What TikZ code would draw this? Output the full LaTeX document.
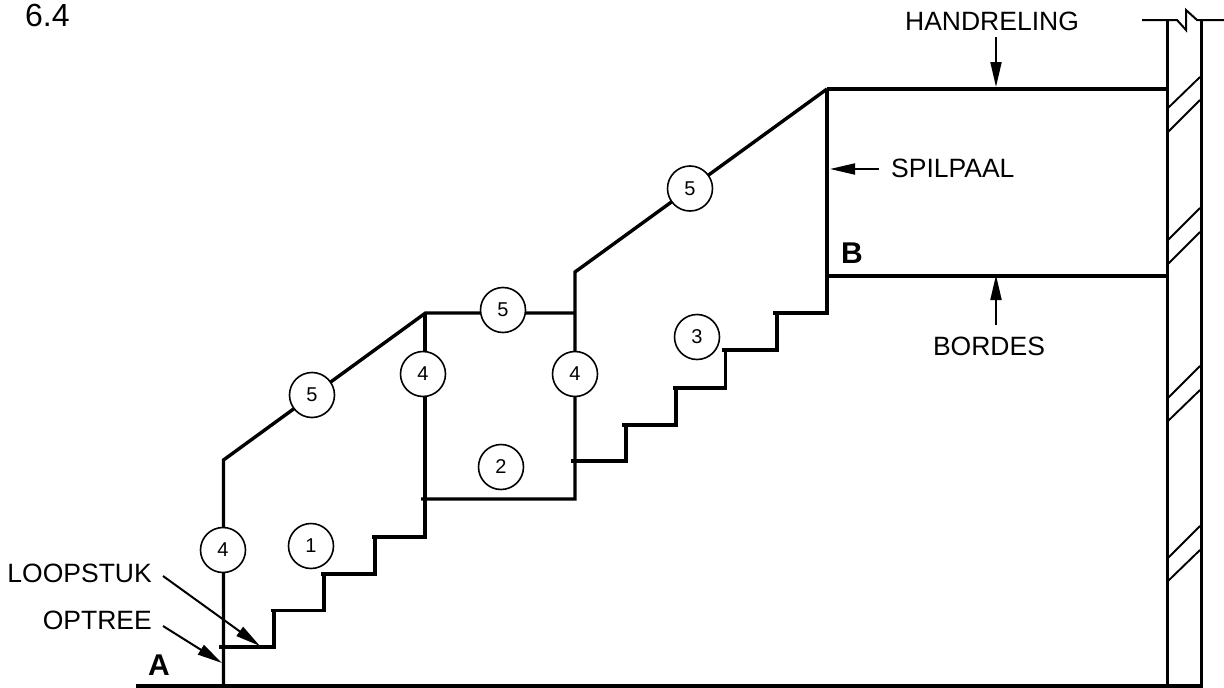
\documentclass[tikz,border=0pt]{standalone}
\usepackage{fontspec}
\setmainfont{Liberation Sans}
\usetikzlibrary{arrows.meta}
\tikzset{
  heavy/.style={line width=3.4pt,line cap=butt,line join=miter},
  wallline/.style={line width=3pt},
  thin hatch/.style={line width=1.9pt},
  pointer/.style={line width=2pt,-{Triangle[length=25pt,width=11pt]}},
  num/.style={circle,draw,line width=1.6pt,fill=white,minimum size=45pt,inner sep=0pt,font=\fontsize{20}{20}\selectfont},
  lab/.style={inner sep=0pt,font=\fontsize{26.5}{26.5}\selectfont},
  letter/.style={inner sep=0pt,font=\fontsize{30}{30}\selectfont\bfseries}
}
\begin{document}
\begin{tikzpicture}[x=1pt,y=-1pt]
\useasboundingbox (0,0) rectangle (1224,688);
% ground and wall
\draw[heavy] (136,686) -- (1203,686);
\draw[wallline] (1167,20) -- (1167,686);
\draw[wallline] (1201,20) -- (1201,686);
\draw[line width=2pt,line join=miter] (1142,20) -- (1177,20) -- (1186,30) -- (1186,10) -- (1197,20) -- (1224,20);
% hatching
\foreach \a/\b in {108/77,132/100,240/208,264/232,398/366,421/390,558/526,581/550}
  \draw[thin hatch] (1168,\a) -- (1200,\b);
% posts and rails
\draw[heavy] (223.5,686) -- (223.5,460) -- (425.5,313) -- (575,313);
\draw[heavy] (425,313) -- (425,537);
\draw[heavy] (421,499) -- (575,499) -- (575,272) -- (827,89);
\draw[heavy] (827,89) -- (1167,89);
\draw[heavy] (827,276) -- (1167,276);
% flight 1
\draw[heavy] (219,647) -- (274,647) -- (274,610.5);
\draw[heavy] (271,610.5) -- (324,610.5) -- (324,574);
\draw[heavy] (321,574) -- (375,574) -- (375,537);
\draw[heavy] (372,537) -- (425,537) -- (425,530);
% flight 3
\draw[heavy] (571,461) -- (626,461) -- (626,425);
\draw[heavy] (622,425) -- (676,425) -- (676,388);
\draw[heavy] (673,388) -- (725.5,388) -- (725.5,350);
\draw[heavy] (722,350) -- (777,350) -- (777,313);
\draw[heavy] (773,313) -- (827,313) -- (827,89);
% numbered circles
\node[num] (c4a) at (223,550) {4};
\node[num] (c1) at (311,546) {1};
\node[num] (c5a) at (312,395) {5};
\node[num] (c4b) at (423,374) {4};
\node[num] (c5b) at (503,310) {5};
\node[num] (c4c) at (575,374) {4};
\node[num] (c2) at (501,467) {2};
\node[num] (c3) at (697,337) {3};
\node[num] (c5c) at (690,188.5) {5};
% labels
\node[lab,anchor=west,font=\fontsize{32}{32}\selectfont] (title) at (25,15) {6.4};
\node[lab] (hand) at (992,21) {HANDRELING};
\node[lab,anchor=west] (spil) at (891,168) {SPILPAAL};
\node[lab] (bord) at (989,346) {BORDES};
\node[lab,anchor=east] (loop) at (152,573) {LOOPSTUK};
\node[lab,anchor=east] (opt) at (152,620) {OPTREE};
\node[letter] (A) at (159,665) {A};
\node[letter] (B) at (852,253) {B};
% pointers
\coordinate (handS) at (996,37);
\coordinate (handE) at (996,87);
\coordinate (spilS) at (879,169);
\coordinate (spilE) at (830,169);
\coordinate (bordS) at (996,325);
\coordinate (bordE) at (996,275);
\coordinate (loopS) at (163,576);
\coordinate (loopE) at (260,646);
\coordinate (optS) at (163,626);
\coordinate (optE) at (222,663);
\draw[pointer] (handS) -- (handE);
\draw[pointer] (spilS) -- (spilE);
\draw[pointer] (bordS) -- (bordE);
\draw[pointer] (loopS) -- (loopE);
\draw[pointer] (optS) -- (optE);
\end{tikzpicture}
\end{document}
